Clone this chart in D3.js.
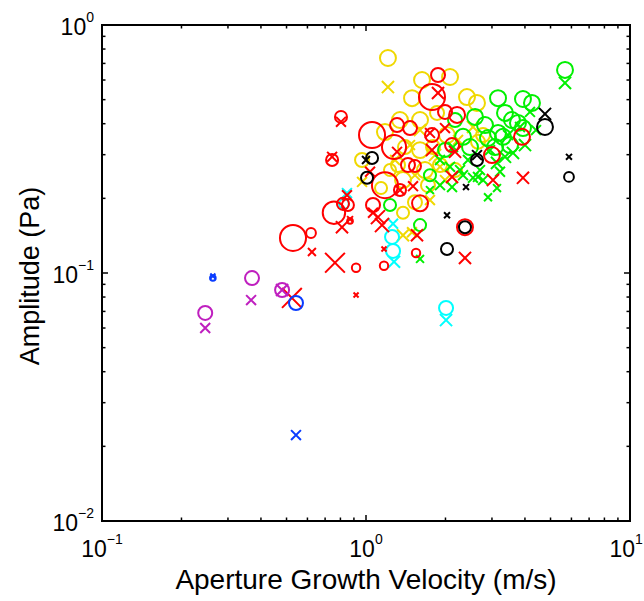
<!DOCTYPE html>
<html><head><meta charset="utf-8">
<script src="https://cdn.jsdelivr.net/npm/d3@7"></script>
<style>body{margin:0;background:#fff}svg{display:block}text{font-family:"Liberation Sans",Arial,Helvetica,sans-serif;fill:#000}</style>
</head><body><svg id="c" width="644" height="601"></svg>
<script>
// ---- data: [velocity (m/s), amplitude (Pa), relative marker magnitude] ----
const xTicks = [0.1, 1, 10];
const xTickExp = ["\u22121", "0", "1"];
const yTicks = [0.01, 0.1, 1];
const yTickExp = ["\u22122", "\u22121", "0"];

const yellowCircles = [[1.211,0.736,0.57],[1.630,0.600,0.57],[2.081,0.617,0.57],[1.494,0.507,0.57],[2.413,0.512,0.57],[2.633,0.485,0.57],[1.180,0.370,0.57],[0.966,0.2855,0.5],[1.345,0.414,0.57],[1.602,0.414,0.57],[1.405,0.322,0.5],[1.602,0.313,0.57],[1.858,0.442,0.5],[1.794,0.322,0.5],[1.381,0.237,0.57],[1.533,0.193,0.5],[1.381,0.175,0.43],[2.775,0.360,0.5],[2.656,0.338,0.5],[2.027,0.360,0.57],[1.673,0.260,0.57],[1.907,0.2725,0.5],[2.174,0.260,0.5],[1.322,0.2725,0.5],[1.717,0.226,0.5],[1.233,0.260,0.43],[1.140,0.220,0.43]];
const yellowCrosses = [[1.211,0.562,0.55],[0.966,0.233,0.45],[1.381,0.142,0.55],[1.494,0.146,0.45],[2.543,0.388,0.55],[1.907,0.268,0.45],[1.602,0.377,0.55],[1.468,0.328,0.45],[1.826,0.299,0.55],[1.992,0.237,0.45],[1.747,0.197,0.45],[1.288,0.2855,0.45],[1.533,0.248,0.45],[2.232,0.344,0.45]];
const greenCircles = [[5.673,0.659,0.57],[3.163,0.507,0.57],[3.932,0.503,0.57],[4.253,0.485,0.57],[2.588,0.426,0.57],[3.361,0.442,0.57],[3.572,0.414,0.57],[3.764,0.403,0.57],[3.932,0.384,0.57],[2.331,0.354,0.57],[3.163,0.367,0.57],[3.303,0.354,0.57],[2.898,0.350,0.57],[2.477,0.322,0.57],[3.511,0.328,0.57],[3.081,0.322,0.57],[2.823,0.395,0.57],[2.174,0.414,0.5],[1.992,0.313,0.5],[1.602,0.156,0.43],[1.233,0.188,0.43],[1.747,0.248,0.43]];
const greenCrosses = [[5.673,0.584,0.55],[4.180,0.446,0.45],[2.136,0.322,0.45],[1.907,0.2855,0.45],[2.081,0.268,0.45],[2.271,0.260,0.45],[2.703,0.260,0.45],[2.543,0.242,0.45],[2.775,0.237,0.45],[3.361,0.294,0.55],[3.604,0.305,0.55],[3.135,0.278,0.55],[3.831,0.388,0.45],[3.450,0.360,0.45],[1.907,0.226,0.45],[2.118,0.222,0.45],[2.331,0.248,0.45],[2.656,0.244,0.45],[2.898,0.202,0.36],[3.135,0.220,0.36],[3.218,0.256,0.45],[1.602,0.114,0.36],[4.002,0.328,0.55],[2.949,0.313,0.45],[2.434,0.2855,0.45],[4.405,0.377,0.45],[1.747,0.216,0.36]];
const cyanCircles = [[0.825,0.190,0.35],[1.255,0.1398,0.5],[1.266,0.1227,0.5],[2.010,0.0723,0.5]];
const cyanCrosses = [[0.847,0.210,0.45],[1.266,0.158,0.45],[1.277,0.111,0.55],[2.010,0.0646,0.55]];
const redCircles = [[0.529,0.1385,0.93],[0.619,0.145,0.35],[0.756,0.175,0.8],[0.818,0.190,0.43],[0.854,0.188,0.43],[0.870,0.162,0.2],[0.917,0.105,0.3],[1.170,0.107,0.3],[0.804,0.426,0.43],[0.744,0.2855,0.43],[1.054,0.360,0.93],[1.311,0.395,0.5],[1.277,0.322,0.86],[1.778,0.512,0.93],[1.874,0.6285,0.5],[1.992,0.446,0.5],[2.213,0.434,0.57],[1.778,0.360,0.5],[2.118,0.328,0.5],[1.442,0.2725,0.5],[1.533,0.270,0.43],[1.063,0.188,0.5],[1.602,0.191,0.57],[1.547,0.1204,0.3],[2.371,0.153,0.57],[3.000,0.299,0.57],[3.898,0.354,0.57],[1.180,0.226,0.93],[1.345,0.216,0.43],[1.468,0.384,0.5]];
const redCrosses = [[0.524,0.0793,0.9],[0.624,0.1215,0.36],[0.763,0.110,0.9],[0.917,0.0815,0.23],[1.170,0.125,0.23],[0.804,0.407,0.45],[0.744,0.294,0.45],[0.811,0.153,0.55],[0.847,0.206,0.45],[1.110,0.168,0.64],[1.150,0.156,0.64],[1.063,0.175,0.45],[1.560,0.142,0.55],[2.371,0.115,0.55],[1.874,0.532,0.55],[1.311,0.308,0.45],[1.778,0.313,0.55],[1.747,0.367,0.45],[2.174,0.308,0.55],[2.118,0.244,0.55],[3.027,0.237,0.55],[3.932,0.242,0.55],[1.345,0.216,0.45],[1.036,0.256,0.45],[1.992,0.384,0.45],[1.507,0.224,0.45],[0.870,0.165,0.27]];
const blackCircles = [[1.054,0.291,0.43],[1.009,0.242,0.43],[2.371,0.153,0.43],[2.027,0.125,0.43],[2.633,0.2855,0.43],[4.764,0.388,0.57],[5.873,0.244,0.35]];
const blackCrosses = [[1.0,0.2855,0.36],[2.392,0.222,0.27],[2.027,0.171,0.27],[2.633,0.299,0.45],[4.764,0.438,0.55],[5.873,0.294,0.27]];
const magentaCircles = [[0.246,0.069,0.5],[0.370,0.0954,0.5],[0.481,0.0854,0.5]];
const magentaCrosses = [[0.246,0.060,0.45],[0.367,0.0778,0.45],[0.481,0.0854,0.55]];
const blueCircles = [[0.263,0.0954,0.2],[0.543,0.0757,0.5]];
const blueCrosses = [[0.263,0.0972,0.23],[0.543,0.0222,0.45]];

const groups = [
  {color:"yellow", circles:yellowCircles, crosses:yellowCrosses},
  {color:"green", circles:greenCircles, crosses:greenCrosses},
  {color:"cyan", circles:cyanCircles, crosses:cyanCrosses},
  {color:"red", circles:redCircles, crosses:redCrosses},
  {color:"black", circles:blackCircles, crosses:blackCrosses},
  {color:"magenta", circles:magentaCircles, crosses:magentaCrosses},
  {color:"blue", circles:blueCircles, crosses:blueCrosses}
];
const colorMap = {yellow:"#f0d800", green:"#00f000", cyan:"#00ffff", red:"#ff0000", black:"#000000", magenta:"#bf1fbf", blue:"#0a3cff"};

// ---- layout ----
const svg = d3.select("#c");
const L = 102, R = 630, T = 25, B = 521;
const x = d3.scaleLog().domain([0.1, 10]).range([L, R]);
const y = d3.scaleLog().domain([0.01, 1]).range([B, T]);
const rScale = d3.scaleLinear().domain([0, 1]).range([0, 14]);
const hScale = d3.scaleLinear().domain([0, 1]).range([0, 11]);

const plot = svg.append("g");
groups.forEach(g => {
  const c = colorMap[g.color];
  const gg = plot.append("g").attr("fill", "none").attr("stroke", c).attr("stroke-width", 2);
  gg.selectAll("circle").data(g.circles).join("circle")
    .attr("cx", d => x(d[0])).attr("cy", d => y(d[1])).attr("r", d => rScale(d[2]));
  gg.selectAll("path").data(g.crosses).join("path")
    .attr("d", d => {
      const cx = x(d[0]), cy = y(d[1]), h = hScale(d[2]);
      return `M${cx-h},${cy-h}L${cx+h},${cy+h}M${cx-h},${cy+h}L${cx+h},${cy-h}`;
    });
});

// ---- axes: box with inward ticks ----
const axes = svg.append("g").attr("stroke", "#000").attr("fill", "none");
const isMajor = v => Math.abs(Math.log10(v) - Math.round(Math.log10(v))) < 1e-6;
x.ticks().forEach(v => {
  const px = x(v), len = isMajor(v) ? 6 : 3.5;
  axes.append("line").attr("x1", px).attr("x2", px).attr("y1", B).attr("y2", B - len).attr("stroke-width", 1.5);
  axes.append("line").attr("x1", px).attr("x2", px).attr("y1", T).attr("y2", T + len).attr("stroke-width", 1.5);
});
y.ticks().forEach(v => {
  const py = y(v), len = isMajor(v) ? 6 : 3.5;
  axes.append("line").attr("y1", py).attr("y2", py).attr("x1", L).attr("x2", L + len).attr("stroke-width", 1.5);
  axes.append("line").attr("y1", py).attr("y2", py).attr("x1", R).attr("x2", R - len).attr("stroke-width", 1.5);
});
axes.append("rect").attr("x", L).attr("y", T).attr("width", R - L).attr("height", B - T).attr("stroke-width", 2);

// ---- tick labels ----
xTicks.forEach((v, i) => {
  const t = svg.append("text").attr("x", x(v)).attr("y", 557).attr("text-anchor", "middle").attr("font-size", 23);
  t.append("tspan").text("10");
  t.append("tspan").attr("dy", -13).attr("font-size", 14).text(xTickExp[i]);
  const bb = t.node().getBBox();
  if (bb.x + bb.width > 643) t.attr("x", x(v) - (bb.x + bb.width - 643));
});
yTicks.forEach((v, i) => {
  const t = svg.append("text").attr("x", 94).attr("y", y(v) + 10).attr("text-anchor", "end").attr("font-size", 23);
  t.append("tspan").text("10");
  t.append("tspan").attr("dy", -13).attr("font-size", 14).text(yTickExp[i]);
});

// ---- axis titles ----
svg.append("text").attr("x", (L + R) / 2).attr("y", 589).attr("text-anchor", "middle").attr("font-size", 28)
  .text("Aperture Growth Velocity (m/s)");
svg.append("text").attr("transform", `translate(39,${(T + B) / 2 + 3}) rotate(-90)`).attr("text-anchor", "middle").attr("font-size", 27)
  .text("Amplitude (Pa)");
</script>
</body></html>
